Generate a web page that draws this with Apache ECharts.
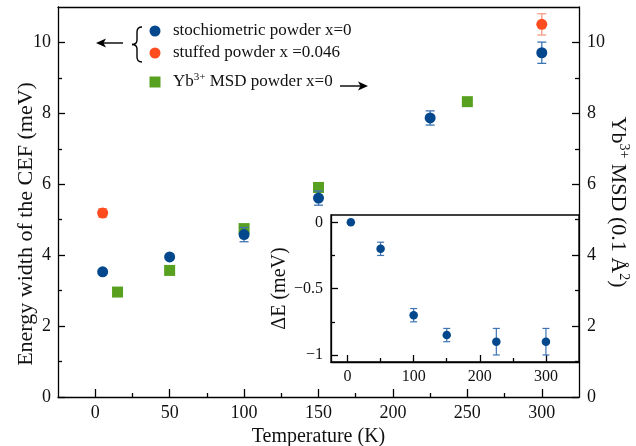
<!DOCTYPE html>
<html><head><meta charset="utf-8">
<script src="https://cdn.jsdelivr.net/npm/echarts@6/dist/echarts.min.js"></script>
<style>html,body{margin:0;padding:0;background:#fff}#c{width:636px;height:446px}</style>
</head><body><div id="c"></div>
<script>
// ---- data ----
const stoichT = [5, 50, 100, 150, 225, 300];
const stoichW = [3.53, 3.95, 4.58, 5.61, 7.87, 9.71];
const stoichErr = [0.05, 0.05, 0.2, 0.2, 0.2, 0.3];
const stuffedT = [5, 300];
const stuffedW = [5.19, 10.51];
const stuffedErr = [0.12, 0.3];
const msdT = [15, 50, 100, 150, 250];
const msdV = [2.96, 3.57, 4.75, 5.91, 8.33];
const insetT = [5, 50, 100, 150, 225, 300];
const insetDE = [0, -0.2, -0.7, -0.85, -0.9, -0.9];
const insetErr = [0, 0.05, 0.05, 0.05, 0.1, 0.1];
const mainXTicks = [0, 50, 100, 150, 200, 250, 300];
const mainXMinor = [25, 75, 125, 175, 225, 275];
const mainYTicks = [0, 2, 4, 6, 8, 10];
const mainYMinor = [1, 3, 5, 7, 9];
const insetXTicks = [0, 100, 200, 300];
const insetXMinor = [50, 150, 250];
const insetYTicks = [-1, -0.5, 0];
const insetYMinor = [-0.75, -0.25];

const BLUE = '#03488c', BLUE_ERR = '#3f74b3';
const RED = '#ff4c1f', RED_ERR = '#f89a85';
const GREEN = '#58a01f';
const FONT = '"Liberation Serif", "Times New Roman", serif';
const TXT = '#111';

const zip3 = (a, b, c) => a.map((v, i) => [v, b[i], c[i]]);
const zip2 = (a, b) => a.map((v, i) => [v, b[i]]);

function errRender(capHalf, color, lw) {
  return function (params, api) {
    const x = api.value(0), y = api.value(1), e = api.value(2);
    if (!e) return {type: 'group', children: []};
    const t = api.coord([x, y + e]), b = api.coord([x, y - e]);
    const st = {stroke: color, lineWidth: lw};
    return {type: 'group', children: [
      {type: 'line', shape: {x1: t[0], y1: t[1], x2: b[0], y2: b[1]}, style: st},
      {type: 'line', shape: {x1: t[0] - capHalf, y1: t[1], x2: t[0] + capHalf, y2: t[1]}, style: st},
      {type: 'line', shape: {x1: b[0] - capHalf, y1: b[1], x2: b[0] + capHalf, y2: b[1]}, style: st}
    ]};
  };
}

const lineSt = {color: '#000', width: 1.3};
function axisBase(extra) {
  const o = Object.assign({
    type: 'value', splitLine: {show: false},
    axisLine: {show: true},
    axisTick: {show: false},
    axisLabel: {show: false}
  }, extra);
  o.axisLine = Object.assign({onZero: false, lineStyle: lineSt}, o.axisLine);
  return o;
}
const lbl = (size, margin, vals, fmt) => ({show: true, customValues: vals, fontFamily: FONT, fontSize: size, color: TXT, margin: margin, formatter: fmt});
const tick = (len, vals) => ({show: true, inside: true, length: len, customValues: vals, lineStyle: lineSt});
const minusFmt = v => v < 0 ? '\u2212' + Math.abs(v) : String(v);

const bk = {stroke: '#000', lineWidth: 1.4, fill: null};
const chart = echarts.init(document.getElementById('c'), null, {renderer: 'canvas'});
chart.setOption({
  animation: false,
  backgroundColor: '#fff',
  grid: [
    {left: 58, right: 57, top: 7, bottom: 49, containLabel: false, outerBoundsMode: 'none'},
    {left: 331, right: 57, top: 215, bottom: 84, containLabel: false, outerBoundsMode: 'none',
      show: true, backgroundColor: '#fff', borderColor: '#000', borderWidth: 1.3, z: 1}
  ],
  xAxis: [
    axisBase({gridIndex: 0, position: 'bottom', min: -25, max: 325, axisTick: tick(8, mainXTicks), axisLabel: lbl(18, 7, mainXTicks),
      name: 'Temperature (K)', nameLocation: 'middle', nameGap: 28, nameTextStyle: {fontFamily: FONT, fontSize: 20, color: TXT}}),
    axisBase({gridIndex: 0, position: 'bottom', min: -25, max: 325, axisLine: {show: false}, axisTick: tick(4, mainXMinor)}),
    axisBase({gridIndex: 0, position: 'top', min: -25, max: 325}),
    axisBase({gridIndex: 1, position: 'bottom', min: -25, max: 350, axisTick: tick(7, insetXTicks), axisLabel: lbl(16, 7, insetXTicks), z: 3}),
    axisBase({gridIndex: 1, position: 'bottom', min: -25, max: 350, axisLine: {show: false}, axisTick: tick(4, insetXMinor), z: 3})
  ],
  yAxis: [
    axisBase({gridIndex: 0, position: 'left', min: 0, max: 11, axisTick: tick(7, mainYTicks), axisLabel: lbl(18, 7, mainYTicks)}),
    axisBase({gridIndex: 0, position: 'left', min: 0, max: 11, axisLine: {show: false}, axisTick: tick(4, mainYMinor)}),
    axisBase({gridIndex: 0, position: 'right', min: 0, max: 11, axisTick: tick(7, mainYTicks), axisLabel: lbl(18, 8, mainYTicks), z: 5}),
    axisBase({gridIndex: 0, position: 'right', min: 0, max: 11, axisLine: {show: false}, axisTick: tick(4, mainYMinor), z: 5}),
    axisBase({gridIndex: 1, position: 'left', min: -1.053, max: 0.055, axisTick: tick(7, insetYTicks), axisLabel: lbl(16, 8, insetYTicks, minusFmt), z: 3,
      name: '\u0394E (meV)', nameLocation: 'middle', nameGap: 32, nameRotate: 90, nameTextStyle: {fontFamily: FONT, fontSize: 20, color: TXT}}),
    axisBase({gridIndex: 1, position: 'left', min: -1.053, max: 0.055, axisLine: {show: false}, axisTick: tick(4, insetYMinor), z: 3})
  ],
  series: [
    {name: 'Yb3+ MSD powder x=0', type: 'scatter', xAxisIndex: 0, yAxisIndex: 2, symbol: 'rect', symbolSize: 11,
      itemStyle: {color: GREEN, opacity: 1}, data: zip2(msdT, msdV), z: 2},
    {name: 'stoch err', type: 'custom', xAxisIndex: 0, yAxisIndex: 0, renderItem: errRender(4.5, BLUE_ERR, 1.3),
      encode: {x: 0, y: 1}, data: zip3(stoichT, stoichW, stoichErr), z: 3},
    {name: 'stuffed err', type: 'custom', xAxisIndex: 0, yAxisIndex: 0, renderItem: errRender(4.5, RED_ERR, 1.3),
      encode: {x: 0, y: 1}, data: zip3(stuffedT, stuffedW, stuffedErr), z: 3},
    {name: 'stochiometric powder x=0', type: 'scatter', xAxisIndex: 0, yAxisIndex: 0, symbol: 'circle', symbolSize: 11,
      itemStyle: {color: BLUE, opacity: 1}, data: zip2(stoichT, stoichW), z: 4},
    {name: 'stuffed powder x =0.046', type: 'scatter', xAxisIndex: 0, yAxisIndex: 0, symbol: 'circle', symbolSize: 11,
      itemStyle: {color: RED, opacity: 1}, data: zip2(stuffedT, stuffedW), z: 4},
    {name: 'inset err', type: 'custom', xAxisIndex: 3, yAxisIndex: 4, renderItem: errRender(3.5, BLUE_ERR, 1.2),
      encode: {x: 0, y: 1}, data: zip3(insetT, insetDE, insetErr), z: 5},
    {name: 'inset \u0394E', type: 'scatter', xAxisIndex: 3, yAxisIndex: 4, symbol: 'circle', symbolSize: 8.5,
      itemStyle: {color: BLUE, opacity: 1}, data: zip2(insetT, insetDE), z: 6}
  ],
  graphic: [
    {type: 'text', x: 26, y: 224, rotation: Math.PI / 2, z: 10,
      style: {text: 'Energy width of the CEF (meV)', fontFamily: FONT, fontSize: 22, fill: TXT, align: 'center', verticalAlign: 'middle'}},
    {type: 'text', x: 618, y: 202, rotation: -Math.PI / 2, z: 10,
      style: {text: '{a|Yb}{s|3+}{a| MSD (0.1 \u00c5}{s|2}{a|)}', align: 'center', verticalAlign: 'middle',
        rich: {a: {fontFamily: FONT, fontSize: 22, fill: TXT, lineHeight: 25},
               s: {fontFamily: FONT, fontSize: 14, fill: TXT, lineHeight: 14, verticalAlign: 'top'}}}},
    {type: 'circle', shape: {cx: 155, cy: 31, r: 5.5}, style: {fill: BLUE}, z: 10},
    {type: 'text', x: 173, y: 31, z: 10, style: {text: 'stochiometric powder x=0', fontFamily: FONT, fontSize: 17, fill: TXT, align: 'left', verticalAlign: 'middle'}},
    {type: 'circle', shape: {cx: 155, cy: 53, r: 5.5}, style: {fill: RED}, z: 10},
    {type: 'text', x: 173, y: 53, z: 10, style: {text: 'stuffed powder x =0.046', fontFamily: FONT, fontSize: 17, fill: TXT, align: 'left', verticalAlign: 'middle'}},
    {type: 'rect', shape: {x: 149.5, y: 76.5, width: 11, height: 11}, style: {fill: GREEN}, z: 10},
    {type: 'text', x: 173, y: 82, z: 10,
      style: {text: '{a|Yb}{s|3+}{a| MSD powder x=0}', align: 'left', verticalAlign: 'middle',
        rich: {a: {fontFamily: FONT, fontSize: 17, fill: TXT, lineHeight: 20},
               s: {fontFamily: FONT, fontSize: 11, fill: TXT, lineHeight: 11, verticalAlign: 'top'}}}},
    // brace
    {type: 'bezierCurve', z: 10, shape: {x1: 142, y1: 27, cpx1: 137, cpy1: 27, x2: 137, y2: 32}, style: bk},
    {type: 'line', z: 10, shape: {x1: 137, y1: 32, x2: 137, y2: 40}, style: bk},
    {type: 'bezierCurve', z: 10, shape: {x1: 137, y1: 40, cpx1: 137, cpy1: 44.5, x2: 132, y2: 44.5}, style: bk},
    {type: 'bezierCurve', z: 10, shape: {x1: 132, y1: 44.5, cpx1: 137, cpy1: 44.5, x2: 137, y2: 49}, style: bk},
    {type: 'line', z: 10, shape: {x1: 137, y1: 49, x2: 137, y2: 57}, style: bk},
    {type: 'bezierCurve', z: 10, shape: {x1: 137, y1: 57, cpx1: 137, cpy1: 62, x2: 142, y2: 62}, style: bk},
    // arrows
    {type: 'line', z: 10, shape: {x1: 102, y1: 43, x2: 123, y2: 43}, style: bk},
    {type: 'polygon', z: 10, shape: {points: [[96, 43], [106, 38.5], [103.5, 43], [106, 47.5]]}, style: {fill: '#000'}},
    {type: 'line', z: 10, shape: {x1: 340, y1: 86, x2: 362, y2: 86}, style: bk},
    {type: 'polygon', z: 10, shape: {points: [[368, 86], [358, 81.5], [360.5, 86], [358, 90.5]]}, style: {fill: '#000'}}
  ]
});
</script>
</body></html>
